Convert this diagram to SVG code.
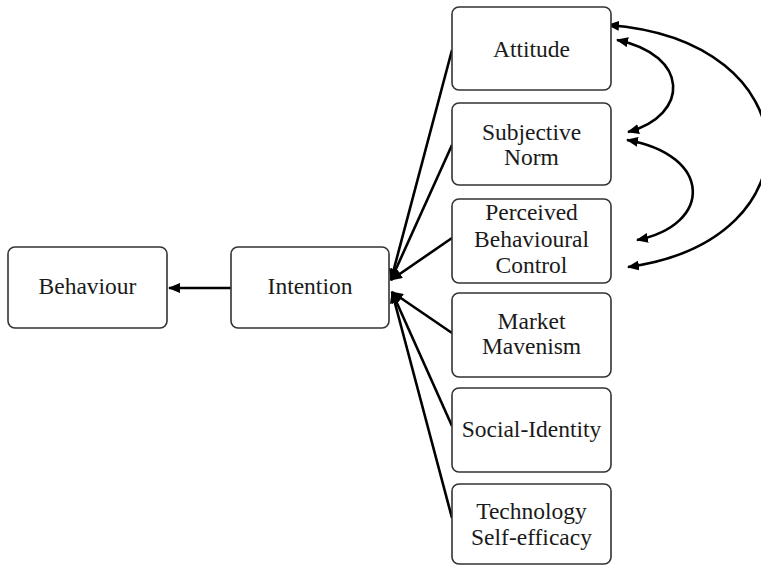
<svg xmlns="http://www.w3.org/2000/svg" width="761" height="566" viewBox="0 0 761 566">
<defs>
<marker id="ah" viewBox="0 0 12 10" refX="11" refY="5" markerWidth="12" markerHeight="10" markerUnits="userSpaceOnUse" orient="auto-start-reverse">
<path d="M0,0 L12,5 L0,10 Z" fill="#000"/>
</marker>
</defs>
<style>
.box{fill:#fff;stroke:#333;stroke-width:1.6}
.t{font-family:"Liberation Serif","Times New Roman",serif;font-size:23.5px;fill:#1a1a1a;text-anchor:middle}
.c{fill:none;stroke:#000;stroke-width:2.6}
</style>
<rect width="761" height="566" fill="#fff"/>
<g id="connectors">
<line class="c" x1="231" y1="288" x2="169" y2="288" marker-end="url(#ah)"/>
<line class="c" x1="452" y1="50" x2="391" y2="280" marker-end="url(#ah)"/>
<line class="c" x1="452" y1="145" x2="391" y2="280" marker-end="url(#ah)"/>
<line class="c" x1="452" y1="238" x2="391" y2="280" marker-end="url(#ah)"/>
<line class="c" x1="452" y1="333" x2="392" y2="292" marker-end="url(#ah)"/>
<line class="c" x1="452" y1="426" x2="392" y2="292" marker-end="url(#ah)"/>
<line class="c" x1="452" y1="518" x2="392" y2="292" marker-end="url(#ah)"/>
<path class="c" d="M617,40 C690,55 690,115 628,132" marker-start="url(#ah)" marker-end="url(#ah)"/>
<path class="c" d="M627,140 C713,155 713,225 637,240" marker-start="url(#ah)" marker-end="url(#ah)"/>
<path class="c" d="M608,25 C812,40 822,240 628,267" marker-start="url(#ah)" marker-end="url(#ah)"/>
</g>
<g id="behaviour">
<rect class="box" x="8" y="247" width="159" height="81" rx="7"/>
<text class="t" x="87.5" y="294">Behaviour</text>
</g>
<g id="intention">
<rect class="box" x="231" y="247" width="158" height="81" rx="7"/>
<text class="t" x="310" y="294">Intention</text>
</g>
<g id="attitude">
<rect class="box" x="452" y="7" width="159" height="83" rx="7"/>
<text class="t" x="531.5" y="57">Attitude</text>
</g>
<g id="subjective-norm">
<rect class="box" x="452" y="103" width="159" height="82" rx="7"/>
<text class="t" x="531.5" y="140">Subjective</text>
<text class="t" x="531.5" y="165">Norm</text>
</g>
<g id="pbc">
<rect class="box" x="452" y="199" width="159" height="84" rx="7"/>
<text class="t" x="531.5" y="220">Perceived</text>
<text class="t" x="531.5" y="247">Behavioural</text>
<text class="t" x="531.5" y="273">Control</text>
</g>
<g id="market-mavenism">
<rect class="box" x="452" y="293" width="159" height="84" rx="7"/>
<text class="t" x="531.5" y="329">Market</text>
<text class="t" x="531.5" y="354">Mavenism</text>
</g>
<g id="social-identity">
<rect class="box" x="452" y="388" width="159" height="84" rx="7"/>
<text class="t" x="531.5" y="437">Social-Identity</text>
</g>
<g id="technology-self-efficacy">
<rect class="box" x="452" y="484" width="159" height="80" rx="7"/>
<text class="t" x="531.5" y="519">Technology</text>
<text class="t" x="531.5" y="545">Self-efficacy</text>
</g>
</svg>
